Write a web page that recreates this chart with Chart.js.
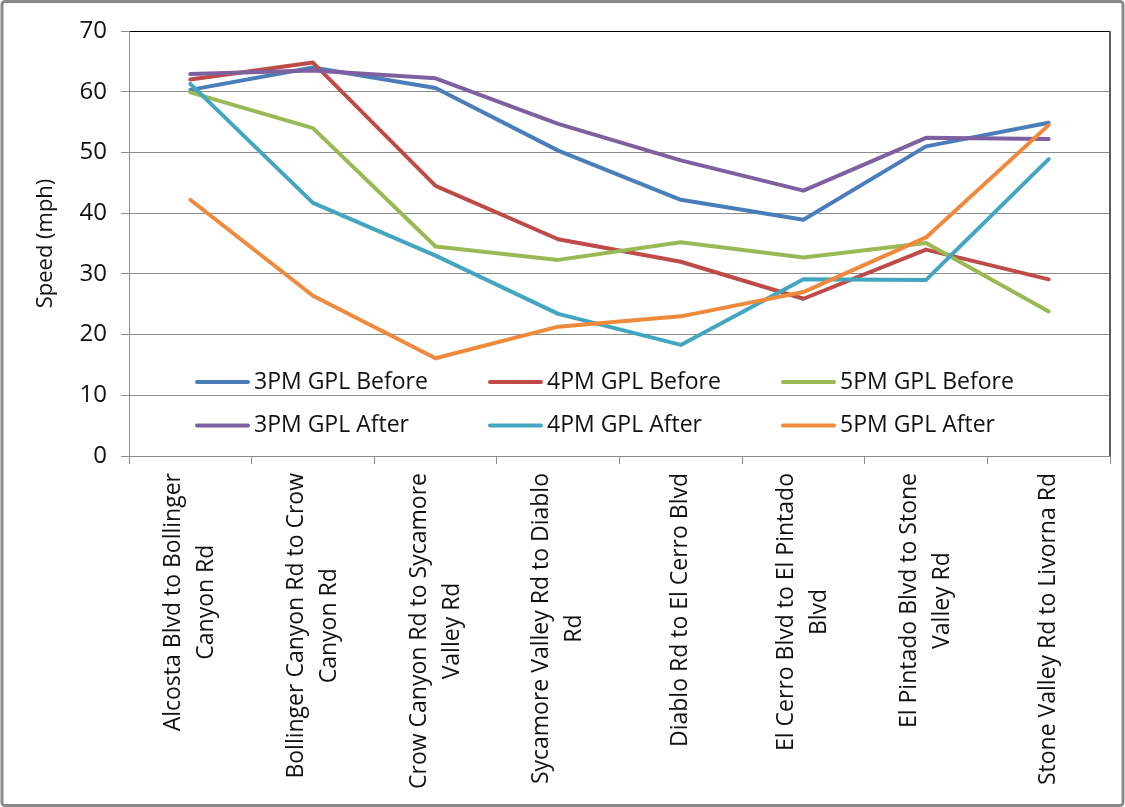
<!DOCTYPE html>
<html>
<head>
<meta charset="utf-8">
<script src="https://cdn.jsdelivr.net/npm/chart.js@4.4.0/dist/chart.umd.min.js"></script>
<style>
  html, body { margin: 0; padding: 0; background: #fff; }
  #wrap { width: 1125px; height: 807px; position: relative; }
</style>
</head>
<body>
<div id="wrap"><canvas id="speedChart"></canvas></div>
<script>
// road segments, each split into the lines shown under the axis
const segments = [
    ['Alcosta Blvd to Bollinger', 'Canyon Rd'],
    ['Bollinger Canyon Rd to Crow', 'Canyon Rd'],
    ['Crow Canyon Rd to Sycamore', 'Valley Rd'],
    ['Sycamore Valley Rd to Diablo', 'Rd'],
    ['Diablo Rd to El Cerro Blvd'],
    ['El Cerro Blvd to El Pintado', 'Blvd'],
    ['El Pintado Blvd to Stone', 'Valley Rd'],
    ['Stone Valley Rd to Livorna Rd']
];

const speedTicks = [0, 10, 20, 30, 40, 50, 60, 70];

// average speed (mph) per segment
const pm3Before = [60.3, 64.0, 60.6, 50.3, 42.2, 38.9, 51.0, 54.9];
const pm4Before = [62.0, 64.8, 44.5, 35.7, 32.0, 25.9, 34.0, 29.1];
const pm5Before = [59.9, 54.0, 34.5, 32.3, 35.2, 32.7, 35.1, 23.8];
const pm3After = [62.9, 63.5, 62.2, 54.7, 48.7, 43.7, 52.4, 52.2];
const pm4After = [61.3, 41.7, 33.0, 23.4, 18.3, 29.1, 29.0, 48.9];
const pm5After = [42.2, 26.4, 16.1, 21.3, 23.0, 27.0, 36.0, 54.5];

const FONT_FAMILY = "'Open Sans', sans-serif";
const TEXT_COLOR = '#111';
const GRID_COLOR = '#8c8c8c';

Chart.defaults.font.family = FONT_FAMILY;
Chart.defaults.color = TEXT_COLOR;

const series = [
    { label: '3PM GPL Before', data: pm3Before, color: '#4A7EBB' },
    { label: '4PM GPL Before', data: pm4Before, color: '#BE4B48' },
    { label: '5PM GPL Before', data: pm5Before, color: '#98B954' },
    { label: '3PM GPL After', data: pm3After, color: '#7D60A0' },
    { label: '4PM GPL After', data: pm4After, color: '#43A6C0' },
    { label: '5PM GPL After', data: pm5After, color: '#EF8A3C' }
];

// outer frame of the chart
const chartFrame = {
    id: 'chartFrame',
    beforeDraw(chart) {
        const ctx = chart.ctx;
        ctx.save();
        ctx.strokeStyle = '#8a8a8a';
        ctx.lineWidth = 3;
        ctx.beginPath();
        ctx.roundRect(2, 1.5, chart.width - 4, chart.height - 3, 3);
        ctx.stroke();
        ctx.restore();
    },
    afterDatasetsDraw(chart) {
        const { ctx, chartArea } = chart;
        ctx.save();
        ctx.strokeStyle = '#5a5a5a';
        ctx.lineWidth = 2;
        ctx.beginPath();
        ctx.moveTo(chartArea.right, chartArea.top);
        ctx.lineTo(chartArea.right, chartArea.bottom);
        ctx.stroke();
        ctx.restore();
    }
};

// rotated, centred category labels
const segmentLabels = {
    id: 'segmentLabels',
    afterDraw(chart) {
        const ctx = chart.ctx;
        const xScale = chart.scales.x;
        const top = chart.chartArea.bottom + 17;
        const lineGap = 33;
        ctx.save();
        ctx.font = '23px ' + FONT_FAMILY;
        ctx.fillStyle = TEXT_COLOR;
        ctx.textAlign = 'center';
        ctx.textBaseline = 'middle';
        segments.forEach((lines, i) => {
            const px = xScale.getPixelForValue(i);
            const widest = Math.max(...lines.map(l => ctx.measureText(l).width));
            ctx.save();
            ctx.translate(px, top + widest / 2);
            ctx.rotate(-Math.PI / 2);
            lines.forEach((line, j) => {
                ctx.fillText(line, 0, (j - (lines.length - 1) / 2) * lineGap);
            });
            ctx.restore();
        });
        ctx.restore();
    }
};

// legend sitting inside the plot, three columns by two rows
const insideLegend = {
    id: 'insideLegend',
    afterDatasetsDraw(chart) {
        const ctx = chart.ctx;
        const cols = [195, 488, 781];
        const rows = [382, 425.5];
        ctx.save();
        ctx.font = '23px ' + FONT_FAMILY;
        ctx.textBaseline = 'middle';
        ctx.textAlign = 'left';
        chart.data.datasets.forEach((ds, i) => {
            const x = cols[i % 3];
            const y = rows[Math.floor(i / 3)];
            ctx.strokeStyle = ds.borderColor;
            ctx.lineWidth = 4;
            ctx.lineCap = 'round';
            ctx.beginPath();
            ctx.moveTo(x + 2, y);
            ctx.lineTo(x + 53, y);
            ctx.stroke();
            ctx.fillStyle = TEXT_COLOR;
            ctx.fillText(ds.label, x + 59, y);
        });
        ctx.restore();
    }
};

const ctx = document.getElementById('speedChart').getContext('2d');
const speedChart = new Chart(ctx, {
    type: 'line',
    data: {
        labels: segments.map(s => s.join(' ')),
        datasets: series.map((s, i) => ({
            label: s.label,
            data: s.data,
            borderColor: s.color,
            backgroundColor: s.color,
            borderWidth: 4,
            borderCapStyle: 'round',
            borderJoinStyle: 'round',
            tension: 0,
            pointRadius: 0,
            pointHoverRadius: 0,
            fill: false,
            order: series.length - i
        }))
    },
    options: {
        responsive: true,
        maintainAspectRatio: false,
        animation: false,
        layout: {
            padding: { top: 31, right: 15, left: 0, bottom: 0 }
        },
        plugins: {
            legend: { display: false },
            tooltip: { enabled: false }
        },
        scales: {
            x: {
                offset: true,
                grid: {
                    offset: true,
                    drawOnChartArea: false,
                    drawTicks: true,
                    tickLength: 8,
                    color: GRID_COLOR
                },
                border: { color: GRID_COLOR, width: 1 },
                ticks: { display: false },
                afterFit(scale) {
                    scale.height = 351;
                }
            },
            y: {
                min: speedTicks[0],
                max: speedTicks[speedTicks.length - 1],
                afterBuildTicks(scale) {
                    scale.ticks = speedTicks.map(v => ({ value: v }));
                },
                grid: {
                    color: c => (c.tick && c.tick.value === 70 ? '#000' : GRID_COLOR),
                    tickColor: GRID_COLOR,
                    tickLength: 8,
                    lineWidth: 1
                },
                border: { color: GRID_COLOR, width: 1 },
                ticks: {
                    padding: 14,
                    font: { size: 24 },
                    color: TEXT_COLOR
                },
                title: {
                    display: true,
                    text: 'Speed (mph)',
                    font: { size: 22 },
                    color: TEXT_COLOR,
                    padding: { top: 33, bottom: 0 }
                },
                afterFit(scale) {
                    scale.width = 129;
                }
            }
        }
    },
    plugins: [chartFrame, segmentLabels, insideLegend]
});
</script>
</body>
</html>
